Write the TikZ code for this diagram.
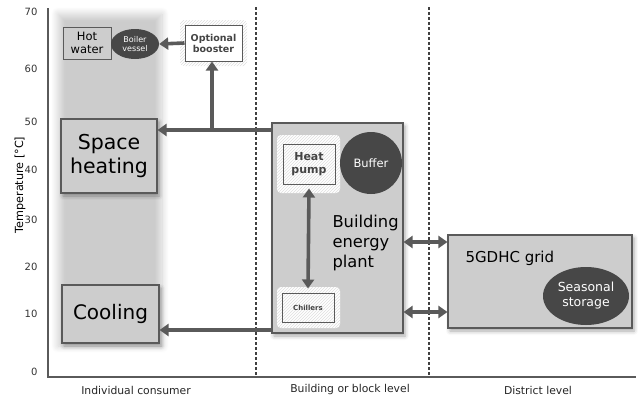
\documentclass[tikz,border=0pt]{standalone}
\usepackage{fontspec}
\setmainfont{DejaVu Sans}
\usetikzlibrary{arrows.meta,patterns,shadows.blur,shapes.geometric}
\definecolor{boxgray}{HTML}{CDCDCD}
\definecolor{edgegray}{HTML}{5A5A5A}
\definecolor{darkfill}{HTML}{474747}
\definecolor{txtgray}{HTML}{444444}
\tikzset{
  unitbox/.style={draw=edgegray, line width=1.1pt, fill=boxgray,
    blur shadow={shadow xshift=2pt, shadow yshift=-3pt, shadow blur radius=4pt, shadow opacity=35}},
  halo/.style={rounded corners=4pt, fill=white, pattern color=gray!25},
  smallbox/.style={draw=edgegray, line width=1pt, fill=none},
  darkblob/.style={fill=darkfill, draw=none, text=white},
  flow/.style={line width=3.6pt, draw=edgegray, -{Triangle[length=9pt,width=12pt]}},
  biflow/.style={line width=3.6pt, draw=edgegray, {Triangle[length=9pt,width=12pt]}-{Triangle[length=9pt,width=12pt]}},
  axisline/.style={line width=1.8pt, draw=edgegray},
  divider/.style={line width=1.3pt, draw=black!75, dash pattern=on 3pt off 2pt},
  tick/.style={font=\fontsize{10}{12}\selectfont, anchor=east, text=black!80},
  colname/.style={font=\fontsize{10.8}{13}\selectfont, text=black!85},
}
\begin{document}
\begin{tikzpicture}[x=1pt,y=-1pt]
  \useasboundingbox (0,0) rectangle (638,399);

  % consumer column band with soft edges
  \path[blur shadow={shadow xshift=0pt, shadow yshift=0pt, shadow blur radius=7pt, shadow opacity=20, shadow blur steps=12}]
    (58,14) rectangle (162,346);

  % axes
  \draw[axisline] (48,8) -- (48,377) -- (636,377);
  \foreach \v/\y in {70/12, 60/69, 50/122, 40/170, 30/220, 20/267, 10/314, 0/372}
    \node[tick] at (41,\y) {\v};
  \node[rotate=90, font=\fontsize{11.2}{13}\selectfont] at (20,185) {Temperature [°C]};

  % level dividers
  \draw[divider] (256,7) -- (256,377);
  \draw[divider] (429,7) -- (429,377);

  % column names
  \node[colname] at (136,390) {Individual consumer};
  \node[colname] at (350,390) {Building or block level};
  \node[colname] at (538,390) {District level};

  % individual consumer
  \node[draw=edgegray, line width=1pt, fill=boxgray, minimum width=48pt, minimum height=32pt,
        align=center, font=\fontsize{11.5}{13}\selectfont] (hw) at (87,43) {Hot\\water};
  \node[darkblob, ellipse, minimum width=48pt, minimum height=30pt, inner sep=0pt, align=center,
        font=\fontsize{8}{9.5}\selectfont] (bv) at (135,44) {Boiler\\vessel};
  \node[unitbox, minimum width=96pt, minimum height=74pt, align=center,
        font=\fontsize{20.5}{24}\selectfont] (sh) at (109,156) {Space\\heating};
  \node[unitbox, minimum width=97pt, minimum height=58pt,
        font=\fontsize{20}{24}\selectfont] (cool) at (110.5,314) {Cooling};

  % optional booster
  \path[halo, pattern=north east lines, preaction={fill=white}] (180,20) rectangle (247,66);
  \node[smallbox, fill=white, minimum width=57pt, minimum height=36pt, align=center,
        font=\bfseries\fontsize{9.5}{11}\selectfont, text=txtgray] (ob) at (213.5,43) {Optional\\booster};

  % building energy plant
  \node[unitbox, minimum width=131pt, minimum height=210pt] (bep) at (337.5,228) {};
  \node[font=\fontsize{16.3}{20}\selectfont, align=left, anchor=west] (bept) at (329,243)
    {Building\\energy\\plant};
  \path[halo, pattern=north east lines, preaction={fill=white}] (277,135) rectangle (340,193);
  \node[smallbox, minimum width=52pt, minimum height=40pt, align=center,
        font=\bfseries\fontsize{11}{13}\selectfont, text=txtgray] (hp) at (309,164) {Heat\\pump};
  \node[darkblob, circle, minimum size=62pt, inner sep=0pt,
        font=\fontsize{11.5}{13}\selectfont] (buf) at (371,163) {Buffer};
  \path[halo, pattern=north east lines, preaction={fill=white}] (277,287) rectangle (340,328);
  \node[smallbox, minimum width=52pt, minimum height=29pt,
        font=\bfseries\fontsize{7}{8}\selectfont, text=txtgray] (ch) at (308,307.5) {Chillers};

  % district grid
  \node[unitbox, minimum width=184pt, minimum height=93pt] (grid) at (540,281.5) {};
  \node[font=\fontsize{15}{18}\selectfont, anchor=west] (gridt) at (462,258) {5GDHC grid};
  \node[darkblob, ellipse, minimum width=86pt, minimum height=58pt, inner sep=0pt, align=center,
        font=\fontsize{12.5}{15}\selectfont] (ss) at (586,296) {Seasonal\\storage};

  % flows
  \coordinate (hotline) at (bep.west |- 0,130);
  \coordinate (coldline) at (bep.west |- 0,330);
  \coordinate (tee) at (212,130);
  \draw[flow] (hotline) -- (sh.east |- hotline);
  \draw[flow] (tee) -- (tee |- ob.south);
  \draw[flow] (ob.west) -- (bv.east);
  \draw[flow] (coldline) -- (cool.east |- coldline);
  \draw[biflow] ([yshift=-4pt]hp.south) -- ([yshift=4pt]ch.north);
  \draw[biflow] (bep.east |- 0,242) -- (grid.west |- 0,242);
  \draw[biflow] (bep.east |- 0,312) -- (grid.west |- 0,312);
\end{tikzpicture}
\end{document}
